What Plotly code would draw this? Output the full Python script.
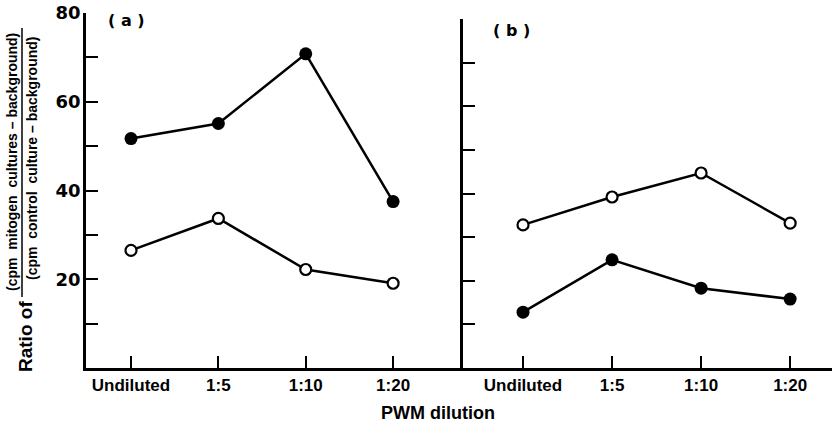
import plotly.graph_objects as go

categories = ["Undiluted", "1:5", "1:10", "1:20"]

a_filled = [51.7, 55.1, 70.8, 37.5]
a_open = [26.5, 33.7, 22.2, 19.1]
b_open = [32.8, 39.2, 44.7, 33.2]
b_filled = [12.8, 24.8, 18.3, 15.8]

y_tickvals = [10, 20, 30, 40, 50, 60, 70, 80]
y_ticktext = ["", "20", "", "40", "", "60", "", "80"]

numerator = "(cpm  mitogen  cultures \u2013 background)"
denominator = "(cpm  control  culture \u2013 background)"

fig = go.Figure()

filled_marker = dict(symbol="circle", size=13, color="black", line=dict(width=0))
open_marker = dict(symbol="circle", size=11, color="white", line=dict(width=2.2, color="black"))
line_style = dict(color="black", width=2.5)

fig.add_trace(go.Scatter(x=categories, y=a_filled, mode="lines+markers", marker=filled_marker,
                         line=line_style, xaxis="x", yaxis="y", showlegend=False))
fig.add_trace(go.Scatter(x=categories, y=a_open, mode="lines+markers", marker=open_marker,
                         line=line_style, xaxis="x", yaxis="y", showlegend=False))
fig.add_trace(go.Scatter(x=categories, y=b_open, mode="lines+markers", marker=open_marker,
                         line=line_style, xaxis="x2", yaxis="y2", showlegend=False))
fig.add_trace(go.Scatter(x=categories, y=b_filled, mode="lines+markers", marker=filled_marker,
                         line=line_style, xaxis="x2", yaxis="y2", showlegend=False))

L, R, T, B = 86, 0, 13, 58
W, H = 832, 426
pw, ph = W - L - R, H - T - B

def px2x(px):
    return (px - L) / pw

def py2y(py):
    return (H - B - py) / ph

split = px2x(463)

xfont = dict(family="Liberation Sans, Arial, sans-serif", size=17, color="black", weight="bold")
yfont = dict(family="DejaVu Sans, sans-serif", size=18, color="black", weight="bold")

common_x = dict(type="category", showline=True, linecolor="black", linewidth=2.5,
                ticks="inside", ticklen=12, tickwidth=2, tickcolor="black",
                showgrid=False, zeroline=False, tickfont=xfont)
common_y = dict(range=[0, 80], showline=True, linecolor="black", linewidth=2.5,
                ticks="inside", ticklen=12, tickwidth=2, tickcolor="black",
                showgrid=False, zeroline=False, tickvals=y_tickvals)

fig.update_layout(
    width=W, height=H,
    margin=dict(l=L, r=R, t=T, b=B),
    paper_bgcolor="white", plot_bgcolor="white",
    xaxis=dict(common_x, domain=[0, split], range=[-0.515, 3.80], anchor="y"),
    xaxis2=dict(common_x, domain=[split, 1], range=[-0.674, 3.47], anchor="y2"),
    yaxis=dict(common_y, domain=[0, 1], anchor="x", ticktext=y_ticktext, tickfont=yfont,
               ticklabelstandoff=-1),
    yaxis2=dict(common_y, domain=[0, py2y(19)], anchor="x2", showticklabels=False),
)

annotations = [
    dict(text="( a )", x=px2x(126), y=py2y(21), font=dict(family="DejaVu Sans", size=16, weight="bold")),
    dict(text="( b )", x=px2x(511), y=py2y(30), font=dict(family="DejaVu Sans", size=16, weight="bold")),
    dict(text="PWM dilution", x=px2x(438), y=py2y(413),
         font=dict(family="Liberation Sans, Arial", size=18, weight="bold")),
    dict(text="Ratio of", x=px2x(25), y=py2y(337), textangle=-90,
         font=dict(family="Liberation Sans, Arial", size=19, weight="bold")),
    dict(text=numerator, x=px2x(12), y=py2y(162), textangle=-90,
         font=dict(family="Liberation Sans, Arial", size=14, weight="bold")),
    dict(text=denominator, x=px2x(32), y=py2y(159), textangle=-90,
         font=dict(family="Liberation Sans, Arial", size=14, weight="bold")),
]
for a in annotations:
    a.update(xref="paper", yref="paper", showarrow=False, xanchor="center", yanchor="middle")
    a["font"]["color"] = "black"
fig.update_layout(annotations=annotations)

fig.add_shape(type="line", xref="paper", yref="paper",
              x0=px2x(22), x1=px2x(22), y0=py2y(28), y1=py2y(297),
              line=dict(color="black", width=1.5))

fig.write_html("out.html")
